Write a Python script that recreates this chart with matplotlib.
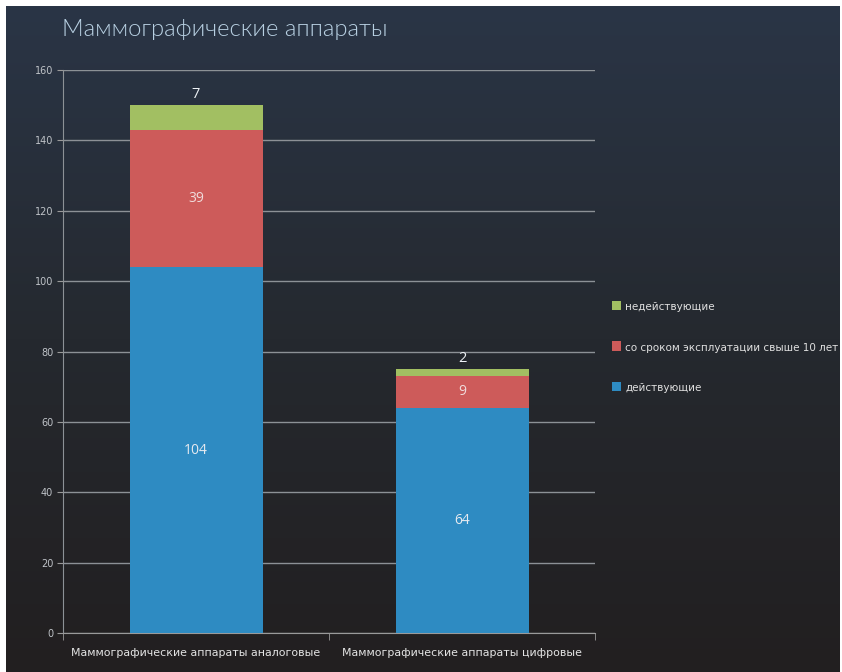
import numpy as np
import matplotlib
matplotlib.use("Agg")
import matplotlib.pyplot as plt
from matplotlib import font_manager as fm
from matplotlib.colors import LinearSegmentedColormap

categories = ["Маммографические аппараты аналоговые", "Маммографические аппараты цифровые"]
active = [104, 64]
old = [39, 9]
inactive = [7, 2]
series_names = ["действующие", "со сроком эксплуатации свыше 10 лет", "недействующие"]
yticks = [0, 20, 40, 60, 80, 100, 120, 140, 160]
title = "Маммографические аппараты"

cond = None
for f in fm.fontManager.ttflist:
    n = f.name
    if any(k in n for k in ("Condensed", "Narrow")) or f.stretch in ("condensed", "semi-condensed", 'extra-condensed'):
        cond = n
        break
body = cond if cond else "Noto Sans"
plt.rcParams['font.family'] = [body, 'DejaVu Sans']

W, H = 842, 672
fig = plt.figure(figsize=(W / 100, H / 100), dpi=100)
fig.patch.set_facecolor("white")

bg = fig.add_axes([6 / W, 0, (W - 8) / W, (H - 6) / H], zorder=-10)
cmap = LinearSegmentedColormap.from_list("bg", ["#2a3546", "#25292f", "#221f20"])
grad = np.linspace(0, 1, 256).reshape(-1, 1)
bg.imshow(grad, aspect="auto", cmap=cmap, extent=[0, 1, 0, 1], origin="upper")
bg.set_axis_off()

ax = fig.add_axes([63 / W, 39 / H, (595 - 63) / W, (633 - 70) / H])
ax.set_facecolor("none")

x = np.arange(len(categories))
bw = 0.5
c_blue, c_red, c_green = "#2e8bc2", "#cd5b5a", "#a2bf62"
b1 = ax.bar(x, active, bw, color=c_blue, label=series_names[0], zorder=3)
b2 = ax.bar(x, old, bw, bottom=active, color=c_red, label=series_names[1], zorder=3)
bottoms2 = [a + o for a, o in zip(active, old)]
b3 = ax.bar(x, inactive, bw, bottom=bottoms2, color=c_green, label=series_names[2], zorder=3)

for i in range(len(categories)):
    ax.text(x[i], active[i] / 2, str(active[i]), ha="center", va="center",
            color="#e6eaf0", fontsize=10, zorder=4, family=["Open Sans", "DejaVu Sans"])
    ax.text(x[i], active[i] + old[i] / 2, str(old[i]), ha="center", va="center",
            color="#f0dcdc", fontsize=10, zorder=4, family=["Open Sans", "DejaVu Sans"])
    top = active[i] + old[i] + inactive[i]
    ax.text(x[i], top + 1.0, str(inactive[i]), ha="center", va="bottom",
            color="#eef2f6", fontsize=10.5, zorder=4, family=["Open Sans", "DejaVu Sans"])

ax.set_xlim(-0.5, 1.5)
ax.set_ylim(0, 160)
ax.set_yticks(yticks)
ax.set_yticklabels([str(v) for v in yticks])
ax.yaxis.grid(True, color="#8c9196", linewidth=1.0, zorder=1)
ax.set_axisbelow(True)

ax.set_xticks(x)
ax.set_xticklabels(categories)
ax.set_xticks([-0.5, 0.5, 1.5], minor=True)
ax.tick_params(axis="x", which="major", length=0, pad=11, colors="#e4e4e4", labelsize=9.5)
ax.tick_params(axis="x", which="minor", length=5, color="#9a9a9a", direction="out")
ax.tick_params(axis="y", length=4, color="#9a9a9a", colors="#bfc3c8", labelsize=7, pad=3)

for s in ["top", "right"]:
    ax.spines[s].set_visible(False)
ax.spines["left"].set_color("#8c9196")
ax.spines["bottom"].set_color("#9a9a9a")

handles = [b3, b2, b1]
leg = ax.legend(handles, [series_names[2], series_names[1], series_names[0]],
                loc="center left", bbox_to_anchor=(600 / W, 1 - 347 / H),
                bbox_transform=fig.transFigure, frameon=False,
                handlelength=0.7, handleheight=0.7, handletextpad=0.3,
                labelspacing=2.2, fontsize=9.5, labelcolor="#e0e0e0")

ttl = fig.text(62 / W, 1 - 30 / H, title, ha="left", va="center", fontsize=17,
               color="#b8d0e2", family=["Lato", "DejaVu Sans"], fontweight=300)

fig.canvas.draw()
r = fig.canvas.get_renderer()
def fit(t, target):
    w = t.get_window_extent(r).width
    if w > 0:
        t.set_fontsize(t.get_fontsize() * target / w)
fit(ax.get_xticklabels()[0], 252)
s0 = ax.get_xticklabels()[0].get_fontsize()
for t in ax.get_xticklabels():
    t.set_fontsize(s0)
fit(leg.get_texts()[1], 214)
s1 = leg.get_texts()[1].get_fontsize()
for t in leg.get_texts():
    t.set_fontsize(s1)
fit(ttl, 326)

fig.savefig("out.png", dpi=100, facecolor=fig.get_facecolor())
